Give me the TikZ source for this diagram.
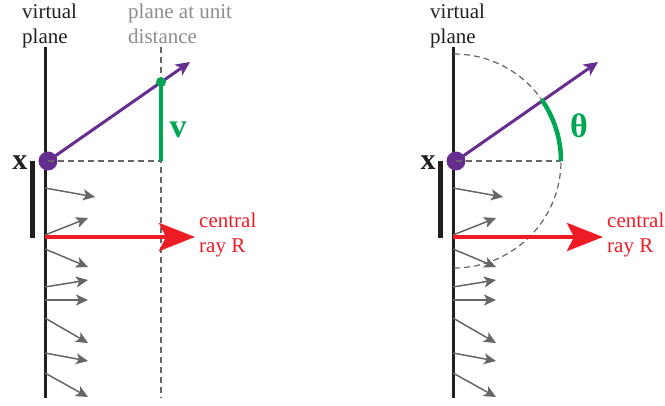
\documentclass[tikz,border=0pt]{standalone}
\usepackage{fontspec}
\setmainfont{Liberation Serif}
\usetikzlibrary{arrows.meta}
\definecolor{raypurple}{RGB}{102,45,145}
\definecolor{vgreen}{RGB}{0,166,81}
\definecolor{rayred}{RGB}{237,28,36}
\definecolor{inkblack}{RGB}{35,31,32}
\tikzset{
  planeline/.style={draw=inkblack,line width=3pt},
  aperture/.style={draw=inkblack,line width=5pt},
  guide/.style={draw=black!60,line width=1.2pt,dash pattern=on 6pt off 4pt},
  sample/.style={draw=black!60,line width=1.5pt,-{Stealth[length=12pt,width=11pt,inset=3pt]}},
  central/.style={draw=rayred,line width=4.5pt,-{Stealth[length=36pt,width=28pt,inset=7pt]}},
  dirray/.style={draw=raypurple,line width=3pt,-{Stealth[length=14pt,width=13pt,inset=3.5pt]}},
  xdot/.style={circle,fill=raypurple,minimum size=19pt,inner sep=0pt},
  boldmark/.style={inner sep=0pt,font=\fontsize{30}{32}\selectfont\bfseries},
  anglemark/.style={inner sep=0pt,text=vgreen,font=\fontsize{34}{36}\selectfont\bfseries},
  labeltext/.style={inner sep=0pt,align=left}
}
\begin{document}
\begin{tikzpicture}[x=1pt,y=-1pt,font=\fontsize{21}{25}\selectfont]
\useasboundingbox (0,0) rectangle (665,405);
\begin{scope}
\coordinate (planetopL) at (45,47); \coordinate (planebotL) at (45,398);
\draw[planeline] (planetopL) -- (planebotL);
\draw[aperture] (32,161) -- (32,238);
\node[labeltext,text=inkblack,anchor=base west] (vplaneL) at (22,43) {virtual\\plane};
\node[labeltext,text=black!45,anchor=base west] (unitL) at (128,43) {plane at unit\\distance};
\node[boldmark,text=inkblack,anchor=base] (xL) at (20,169) {x};
\draw[guide] (161,47) -- (161,398);
\foreach \sy/\tx/\ty in {188/95/197,235/88/218,249/88/267,287/88/280,300/88/300,318/88/343,353/88/361,373/88/397}
  \draw[sample] (45,\sy) -- (\tx,\ty);
\coordinate (rayL) at (45,237); \coordinate (rayendL) at (195,237);
\draw[central] (rayL) -- (rayendL);
\node[labeltext,text=rayred,anchor=base west] (centralL) at (199,252) {central\\ray R};
\node[xdot] (dotL) at (48,161) {};
\coordinate (tipL) at (190,62);
\draw[dirray] (dotL.center) -- (tipL);
\coordinate (footL) at (161,161);
\draw[guide] (dotL.center) -- (footL);
\node[circle,fill=vgreen,minimum size=10pt,inner sep=0pt] (hitL) at (161,82) {};
\draw[draw=vgreen,line width=4.5pt] (hitL.center) -- (footL);
\node[anglemark,anchor=base] (vL) at (178,137) {v};
\end{scope}
\begin{scope}[xshift=408pt]
\coordinate (planetopR) at (45,47); \coordinate (planebotR) at (45,398);
\draw[planeline] (planetopR) -- (planebotR);
\draw[aperture] (32,161) -- (32,238);
\node[labeltext,text=inkblack,anchor=base west] (vplaneR) at (22,43) {virtual\\plane};
\node[boldmark,text=inkblack,anchor=base] (xR) at (20,169) {x};
\foreach \sy/\tx/\ty in {188/95/197,235/88/218,249/88/267,287/88/280,300/88/300,318/88/343,353/88/361,373/88/397}
  \draw[sample] (45,\sy) -- (\tx,\ty);
\draw[guide] (46,54) arc[start angle=-90,end angle=90,radius=107];
\coordinate (rayR) at (45,237); \coordinate (rayendR) at (195,237);
\draw[central] (rayR) -- (rayendR);
\node[labeltext,text=rayred,anchor=base west] (centralR) at (199,252) {central\\ray R};
\node[xdot] (dotR) at (48,161) {};
\coordinate (tipR) at (190,62);
\draw[dirray] (dotR.center) -- (tipR);
\coordinate (footR) at (153,161);
\draw[guide] (dotR.center) -- (footR);
\draw[draw=vgreen,line width=4.5pt] (footR) arc[start angle=0,end angle=-35.2,radius=107];
\node[anglemark,anchor=base] (thetaR) at (171,137) {θ};
\end{scope}
\end{tikzpicture}
\end{document}
